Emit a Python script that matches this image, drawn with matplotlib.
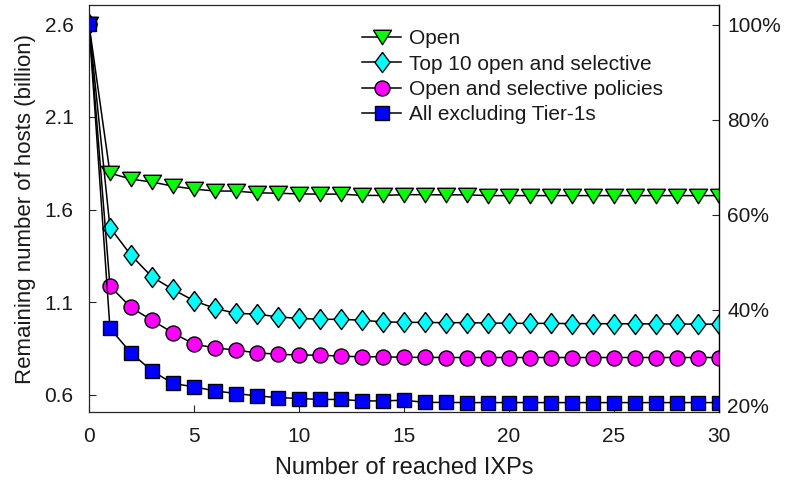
import matplotlib
matplotlib.use('Agg')
import matplotlib.pyplot as plt
import numpy as np

plt.rcParams['font.family'] = ['Liberation Sans', 'DejaVu Sans']

# number of reached IXPs
ixps = list(range(0, 31))

# remaining hosts (billion)
open_only = [2.6, 1.796, 1.764, 1.748, 1.726, 1.710, 1.700, 1.699, 1.690, 1.688,
             1.684, 1.683, 1.683, 1.676, 1.676, 1.680, 1.680, 1.679, 1.679, 1.675,
             1.675, 1.675, 1.675, 1.675, 1.675, 1.675, 1.675, 1.675, 1.675, 1.675, 1.675]
top10 = [2.6, 1.503, 1.354, 1.237, 1.169, 1.108, 1.067, 1.040, 1.036, 1.021,
         1.013, 1.008, 1.008, 1.003, 0.994, 0.992, 0.991, 0.990, 0.990, 0.988,
         0.987, 0.986, 0.986, 0.985, 0.985, 0.984, 0.984, 0.983, 0.983, 0.982, 0.982]
open_sel = [2.6, 1.187, 1.072, 1.003, 0.935, 0.874, 0.854, 0.842, 0.827, 0.820,
            0.815, 0.815, 0.809, 0.806, 0.806, 0.803, 0.803, 0.802, 0.802, 0.802,
            0.802, 0.802, 0.802, 0.802, 0.802, 0.802, 0.802, 0.802, 0.802, 0.802, 0.802]
no_tier1 = [2.6, 0.959, 0.827, 0.730, 0.662, 0.644, 0.622, 0.608, 0.595, 0.586,
            0.581, 0.576, 0.576, 0.568, 0.568, 0.572, 0.560, 0.560, 0.559, 0.559,
            0.559, 0.559, 0.559, 0.559, 0.559, 0.559, 0.559, 0.559, 0.559, 0.559, 0.559]

labels = ['Open', 'Top 10 open and selective', 'Open and selective policies', 'All excluding Tier-1s']

yticks_left = [0.6, 1.1, 1.6, 2.1, 2.6]
yticks_right = [20, 40, 60, 80, 100]

tri = [(-1, 0.8), (1, 0.8), (0, -0.8), (-1, 0.8)]
dia = [(0, 1), (0.75, 0), (0, -1), (-0.75, 0), (0, 1)]

fig = plt.figure(figsize=(7.88, 4.82), dpi=100)
ax = fig.add_axes([0.1129, 0.1459, 0.7995, 0.8427])

axcol = '#262626'
kw = dict(color='black', lw=1.1, mec='black', mew=1.0)
ax.plot(ixps, open_only, marker=tri, ms=13, mfc='#00ff00', label=labels[0], **kw)
ax.plot(ixps, top10, marker=dia, ms=14.5, mfc='#00ffff', label=labels[1], **kw)
ax.plot(ixps, open_sel, marker='o', ms=10.8, mfc='#ff00ff', label=labels[2], **kw)
ax.plot(ixps, no_tier1, marker='s', ms=9.5, mfc='#0000ff', label=labels[3], **kw)

ax.set_xlim(0, 30)
ax.set_ylim(0.51, 2.70)
ax.set_xticks(range(0, 31, 5))
ax.set_yticks(yticks_left)
ax.set_yticklabels([f'{v:.1f}' for v in yticks_left])
ax.tick_params(direction='in', length=5, width=0.8, labelsize=15, color=axcol,
               labelcolor='#1a1a1a', pad=11)
ax.tick_params(axis='x', top=False)
ax.tick_params(axis='y', right=False)
for s in ['left', 'bottom', 'top']:
    ax.spines[s].set_color(axcol)
    ax.spines[s].set_linewidth(0.9)
ax.spines['right'].set_visible(False)

ax.set_xlabel('Number of reached IXPs', fontsize=17, color='#1a1a1a', labelpad=8)
ax.set_ylabel('Remaining number of hosts (billion)', fontsize=16, color='#1a1a1a', labelpad=6)

ax2 = ax.twinx()
ax2.set_ylim(18.6, 104.0)
ax2.set_yticks(yticks_right)
ax2.set_yticklabels([f'{v}%' for v in yticks_right])
ax2.tick_params(direction='in', length=5, width=0.8, labelsize=15, color=axcol,
                labelcolor='#1a1a1a', pad=6)
for s in ['left', 'bottom', 'top']:
    ax2.spines[s].set_visible(False)
ax2.spines['right'].set_color('black')
ax2.spines['right'].set_linewidth(1.0)

leg = ax.legend(loc='upper left', bbox_to_anchor=(0.433, 0.941), frameon=False,
                fontsize=15, handlelength=1.9, handletextpad=0.35, labelspacing=0.3,
                borderpad=0, borderaxespad=0)
for t in leg.get_texts():
    t.set_color('#1a1a1a')

fig.savefig('out.png', dpi=100)
